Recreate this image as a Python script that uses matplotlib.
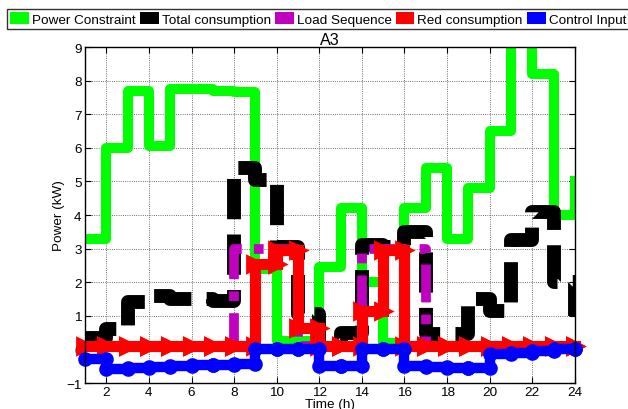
import numpy as np
import matplotlib.pyplot as plt
from matplotlib.patches import Patch

plt.rcParams['font.family'] = ['Liberation Sans', 'DejaVu Sans']
plt.rcParams['font.size'] = 9.7

hours = np.arange(1, 25)

# hourly levels: value k is held from hour k to hour k+1 (the last one closes the step at 24)
power_constraint = [3.3, 6.0, 7.7, 6.05, 7.75, 7.75, 7.7, 7.65, 2.4, 0.25, 0.25, 2.45,
                    4.2, 2.0, 0.2, 4.2, 5.4, 3.3, 4.8, 6.5, 9.3, 8.2, 4.0, 5.0]
total_consumption = [0.35, 0.6, 1.4, 1.6, 1.5, 1.5, 1.45, 5.4, 5.05, 3.05, 1.05, 0.15,
                     0.5, 3.1, 3.05, 3.5, 0.45, 0.45, 1.5, 1.15, 3.25, 4.1, 2.0, 1.0]
load_sequence = [0.1, 0.1, 0.1, 0.1, 0.1, 0.1, 0.1, 3.0, 3.0, 3.0, 0.1, 0.1,
                 0.1, 3.0, 3.0, 3.0, 0.1, 0.1, 0.1, 0.1, 0.1, 0.1, 0.1, 0.1]
red_consumption = [0.1, 0.1, 0.1, 0.1, 0.1, 0.1, 0.1, 0.1, 2.55, 2.95, 0.65, 0.1,
                   0.1, 1.15, 2.95, 0.1, 0.1, 0.1, 0.1, 0.1, 0.1, 0.1, 0.1, 0.1]
control_input = [-0.3, -0.58, -0.55, -0.52, -0.5, -0.47, -0.45, -0.42, 0.0, 0.0, 0.0, -0.48,
                 -0.48, 0.0, 0.0, -0.5, -0.52, -0.55, -0.55, -0.15, -0.1, -0.05, 0.0, 0.0]

labels = ['Power Constraint', 'Total consumption', 'Load Sequence',
          'Red consumption', 'Control Input']
colors = ['#00ff00', '#000000', '#bf00bf', '#ff0000', '#0000ff']


def corners(x, y):
    # stairs: every corner becomes a vertex (so markers sit on both corners)
    return np.repeat(x, 2)[1:], np.repeat(y, 2)[:-1]


fig = plt.figure(figsize=(6.28, 4.10), dpi=100)
ax = fig.add_axes([0.1354, 0.0634, 0.780, 0.8195])

ax.plot(*corners(hours, power_constraint), color=colors[0], lw=7.2,
        solid_joinstyle='round', zorder=2)
ax.plot(*corners(hours, total_consumption), color=colors[1], lw=10,
        ls=(0, (2.9, 1.1)), dash_joinstyle='round', dash_capstyle='butt', zorder=2.1)
ax.plot(*corners(hours, load_sequence), color=colors[2], lw=7,
        ls=(0, (3.9, 1.25, 1.0, 1.25)), dash_joinstyle='round', zorder=2.2)
ax.plot(*corners(hours, red_consumption), color=colors[3], lw=8, marker='>',
        ms=12, mew=2, mfc=colors[3], solid_joinstyle='miter', clip_on=False, zorder=2.3)
ax.plot(*corners(hours, control_input), color=colors[4], lw=7.5, marker='o',
        ms=7, mew=3.5, mfc='none', clip_on=False, zorder=2.4)

ax.set_xlim(1, 24)
ax.set_ylim(-1, 9)
ax.set_xticks(np.arange(2, 25, 2))
ax.set_yticks(np.arange(-1, 10, 1))
ax.grid(True, color='0.25', ls=':', lw=0.6)
ax.set_axisbelow(True)
ax.tick_params(direction='in', top=True, right=True, length=4, width=0.8, pad=2.5)
for s in ax.spines.values():
    s.set_linewidth(1.0)

ax.set_title('A3', pad=2)
ax.set_xlabel('Time (h)', labelpad=0)
ax.set_ylabel('Power (kW)', labelpad=0.5)

handles = [Patch(facecolor=c, edgecolor='none') for c in colors]
leg = fig.legend(handles, labels, loc='upper left', bbox_to_anchor=(0.011, 0.976),
                 ncol=5, frameon=True, fancybox=False, edgecolor='black',
                 handlelength=1.4, handleheight=1.0, handletextpad=0.22,
                 columnspacing=0.3, borderpad=0.25, borderaxespad=0)
leg.get_frame().set_linewidth(1.0)

fig.savefig('out.png', dpi=100)
